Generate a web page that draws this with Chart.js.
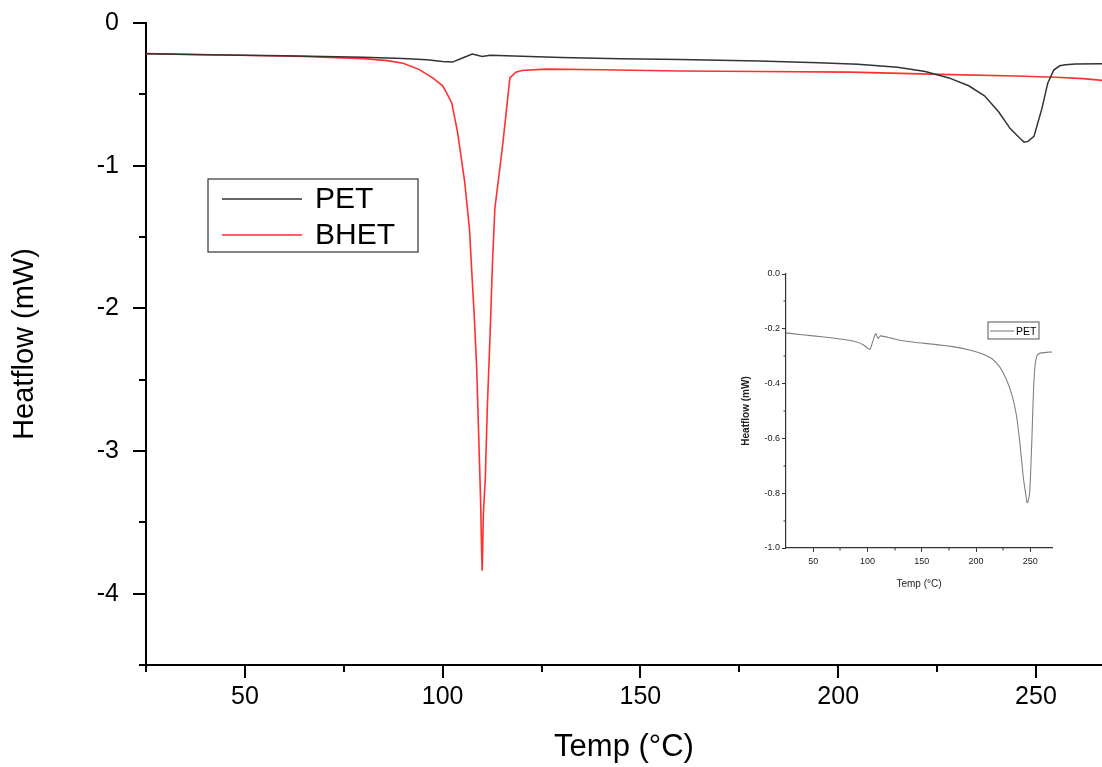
<!DOCTYPE html>
<html>
<head>
<meta charset="utf-8">
<script src="https://cdn.jsdelivr.net/npm/chart.js"></script>
<style>
  html, body { margin: 0; padding: 0; background: #fff; }
  #wrap { position: relative; width: 1102px; height: 767px; }
  #main { position: absolute; left: 0; top: 0; }
  #inset { position: absolute; left: 730px; top: 256px; }
</style>
</head>
<body>
<div id="wrap">
  <canvas id="main" width="1102" height="767"></canvas>
  <canvas id="inset" width="340" height="344"></canvas>
</div>
<script>
// DSC curves
var petTemp = [25, 40, 60, 80, 90, 96, 100, 102.5, 105, 107.5, 110, 112, 122, 130, 145, 160, 180, 195, 205, 215,
  222, 228, 233, 237, 240.5, 243.5, 246, 247, 248, 249.5, 251.5, 253, 254.5, 256, 257.5, 260, 267, 270];
var petFlow = [-0.215, -0.222, -0.23, -0.24, -0.248, -0.258, -0.27, -0.274, -0.245, -0.218, -0.235, -0.226, -0.234, -0.242, -0.25, -0.256, -0.266, -0.278, -0.29, -0.31,
  -0.34, -0.385, -0.44, -0.51, -0.62, -0.74, -0.81, -0.835, -0.83, -0.795, -0.6, -0.42, -0.33, -0.3, -0.292, -0.288, -0.285, -0.285];

var bhetTemp = [25, 45, 65, 80, 86, 90, 94, 97.5, 100, 101, 102.3, 103.8, 105.6, 106.8, 107.3, 108, 108.6, 109.1, 109.6, 109.85,
  110, 110.3, 110.8, 111.3, 112, 112.6, 113.2, 115.2, 117, 118.5, 120, 126, 140, 160, 180, 203, 226, 245, 255, 262, 267];
var bhetFlow = [-0.215, -0.224, -0.235, -0.25, -0.264, -0.282, -0.325, -0.385, -0.44, -0.49, -0.56, -0.77, -1.12, -1.45, -1.71, -2.06, -2.41, -2.88, -3.35, -3.7,
  -3.84, -3.44, -3.18, -2.69, -2.18, -1.68, -1.3, -0.85, -0.385, -0.345, -0.333, -0.323, -0.328, -0.336, -0.34, -0.344, -0.36, -0.372, -0.38, -0.39, -0.403];

// ticks
var xMajor = [50, 100, 150, 200, 250];
var xMinor = [25, 75, 125, 175, 225];
var yMajor = [0, -1, -2, -3, -4];
var yMinor = [-0.5, -1.5, -2.5, -3.5, -4.5];
var insetYMajor = [0, -0.2, -0.4, -0.6, -0.8, -1.0];
var insetYMinor = [-0.1, -0.3, -0.5, -0.7, -0.9];
var insetXMinor = [75, 125, 175, 225];

function pairs(xs, ys) {
  return xs.map(function (x, i) { return { x: x, y: ys[i] }; });
}

var FONT = "'Liberation Sans', Arial, sans-serif";

// short ticks between the labelled ones
var minorTicks = {
  id: "minorTicks",
  afterDraw: function (chart, args, o) {
    var ctx = chart.ctx, xs = chart.scales.x, ys = chart.scales.y;
    ctx.save();
    ctx.strokeStyle = o.color;
    ctx.lineWidth = o.width;
    ctx.beginPath();
    o.x.forEach(function (v) {
      var px = Math.round(xs.getPixelForValue(v));
      ctx.moveTo(px, xs.top);
      ctx.lineTo(px, xs.top + o.len);
    });
    o.y.forEach(function (v) {
      var py = Math.round(ys.getPixelForValue(v));
      ctx.moveTo(ys.right - o.len, py);
      ctx.lineTo(ys.right, py);
    });
    ctx.stroke();
    ctx.restore();
  }
};

// boxed legend inside the plot
var boxLegend = {
  id: "boxLegend",
  afterDraw: function (chart, args, o) {
    var ctx = chart.ctx;
    ctx.save();
    ctx.fillStyle = "#fff";
    ctx.fillRect(o.left, o.top, o.w, o.h);
    ctx.strokeStyle = o.boxColor;
    ctx.lineWidth = o.boxWidth;
    ctx.strokeRect(o.left, o.top, o.w, o.h);
    chart.data.datasets.forEach(function (ds, i) {
      var y = o.top + o.row0 + i * o.rowGap;
      ctx.strokeStyle = ds.borderColor;
      ctx.lineWidth = ds.borderWidth;
      ctx.beginPath();
      ctx.moveTo(o.left + o.line0, y);
      ctx.lineTo(o.left + o.line1, y);
      ctx.stroke();
      ctx.fillStyle = "#000";
      ctx.font = o.fontSize + "px " + FONT;
      ctx.textBaseline = "middle";
      ctx.fillText(ds.label, o.left + o.textX, y + 1);
    });
    ctx.restore();
  }
};

new Chart(document.getElementById("main"), {
  type: "line",
  data: {
    datasets: [
      { label: "PET", data: pairs(petTemp, petFlow), borderColor: "#333333", borderWidth: 1.5, pointRadius: 0, tension: 0 },
      { label: "BHET", data: pairs(bhetTemp, bhetFlow), borderColor: "#ff3030", borderWidth: 1.6, pointRadius: 0, tension: 0 }
    ]
  },
  options: {
    responsive: false,
    animation: false,
    layout: { padding: { top: 23, right: 0, left: 0, bottom: 0 } },
    plugins: {
      legend: { display: false },
      tooltip: { enabled: false },
      minorTicks: { x: xMinor, y: yMinor, len: 7, width: 2, color: "#000" },
      boxLegend: { left: 208, top: 179, w: 210, h: 73, row0: 20, rowGap: 36, line0: 14, line1: 94, textX: 107,
        fontSize: 30, boxColor: "#333", boxWidth: 1.2 }
    },
    scales: {
      x: {
        type: "linear", min: 25, max: 266.7,
        afterBuildTicks: function (s) { s.ticks = xMajor.map(function (v) { return { value: v }; }); },
        afterFit: function (s) { s.height = 102; s.paddingLeft = 0; s.paddingRight = 0; },
        grid: { drawOnChartArea: false, tickLength: 13, color: "#000", lineWidth: 2 },
        border: { color: "#000", width: 2 },
        ticks: { color: "#000", font: { family: FONT, size: 25 }, padding: 4, maxRotation: 0 },
        title: { display: true, text: "Temp (°C)", color: "#000", font: { family: FONT, size: 31 }, padding: { top: 0, bottom: 1 } }
      },
      y: {
        type: "linear", min: -4.5, max: 0,
        afterBuildTicks: function (s) { s.ticks = yMajor.map(function (v) { return { value: v }; }); },
        afterFit: function (s) { s.width = 146; s.paddingTop = 0; s.paddingBottom = 0; },
        grid: { drawOnChartArea: false, tickLength: 13, color: "#000", lineWidth: 2 },
        border: { color: "#000", width: 2 },
        ticks: { color: "#000", font: { family: FONT, size: 25 }, padding: 14, callback: function (v) { return String(v); } },
        title: { display: true, text: "Heatflow (mW)", color: "#000", font: { family: FONT, size: 29 }, padding: { top: 8, bottom: 0 } }
      }
    }
  },
  plugins: [minorTicks, boxLegend]
});

new Chart(document.getElementById("inset"), {
  type: "line",
  data: {
    datasets: [
      { label: "PET", data: pairs(petTemp, petFlow), borderColor: "#808080", borderWidth: 1.1, pointRadius: 0, tension: 0.2 }
    ]
  },
  options: {
    responsive: false,
    animation: false,
    layout: { padding: { top: 18, right: 18, left: 0, bottom: 0 } },
    plugins: {
      legend: { display: false },
      tooltip: { enabled: false },
      minorTicks: { x: insetXMinor, y: insetYMinor, len: 2.5, width: 1, color: "#333" },
      boxLegend: { left: 258, top: 66, w: 51, h: 17, row0: 9, rowGap: 0, line0: 2, line1: 26, textX: 28,
        fontSize: 10.5, boxColor: "#555", boxWidth: 1 }
    },
    scales: {
      x: {
        type: "linear", min: 25, max: 270,
        afterBuildTicks: function (s) { s.ticks = xMajor.map(function (v) { return { value: v }; }); },
        afterFit: function (s) { s.height = 52; s.paddingLeft = 0; s.paddingRight = 0; },
        grid: { drawOnChartArea: false, tickLength: 4, color: "#333", lineWidth: 1 },
        border: { color: "#333", width: 1.2 },
        ticks: { color: "#222", font: { family: FONT, size: 9 }, padding: 4, maxRotation: 0 },
        title: { display: true, text: "Temp (°C)", color: "#222", font: { family: FONT, size: 10 }, padding: { top: 0, bottom: 10 } }
      },
      y: {
        type: "linear", min: -1.0, max: 0,
        afterBuildTicks: function (s) { s.ticks = insetYMajor.map(function (v) { return { value: v }; }); },
        afterFit: function (s) { s.width = 56; s.paddingTop = 0; s.paddingBottom = 0; },
        grid: { drawOnChartArea: false, tickLength: 4, color: "#333", lineWidth: 1 },
        border: { color: "#333", width: 1.2 },
        ticks: { color: "#222", font: { family: FONT, size: 9 }, padding: 2, callback: function (v) { return v.toFixed(1); } },
        title: { display: true, text: "Heatflow (mW)", color: "#222", font: { family: FONT, size: 10, weight: "bold" }, padding: { top: 10, bottom: 0 } }
      }
    }
  },
  plugins: [minorTicks, boxLegend]
});
</script>
</body>
</html>
